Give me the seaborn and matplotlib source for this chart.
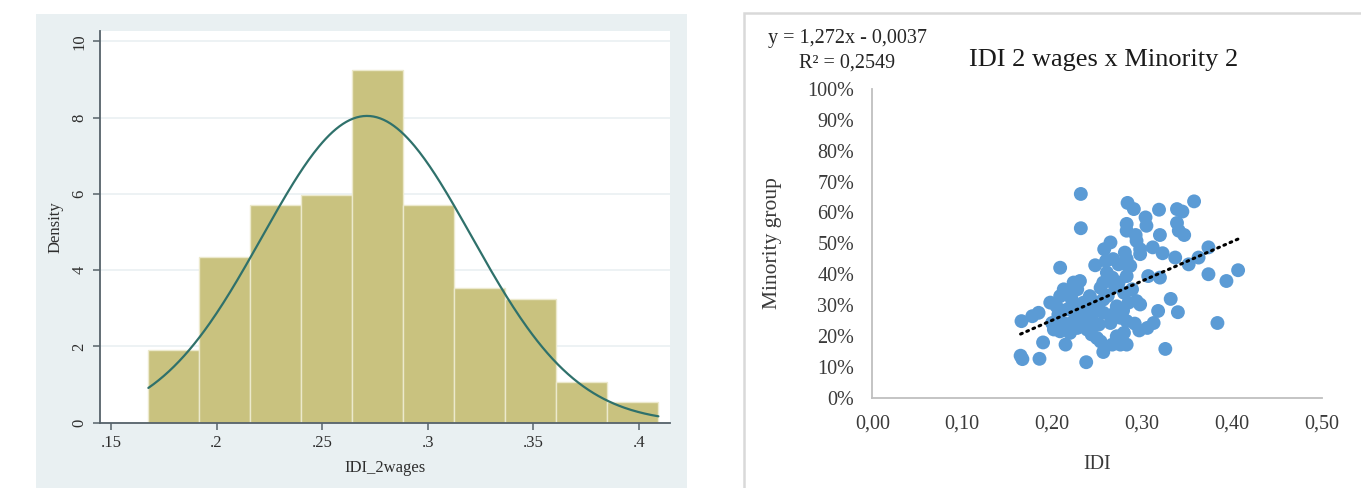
import numpy as np
import matplotlib
matplotlib.use('Agg')
import matplotlib.pyplot as plt
from matplotlib.patches import Rectangle
import seaborn as sns

# ---- left panel: histogram of IDI_2wages (density per bin) ----
bin_edges = [0.1677, 0.1919, 0.2160, 0.2402, 0.2643, 0.2885,
             0.3126, 0.3368, 0.3609, 0.3851, 0.4092]
densities = [1.90, 4.35, 5.70, 5.98, 9.24, 5.70, 3.53, 3.25, 1.08, 0.53]
curve_mean = 0.2712
curve_sd = 0.0496
hist_xticks = [0.15, 0.2, 0.25, 0.3, 0.35, 0.4]
hist_xlabels = ['.15', '.2', '.25', '.3', '.35', '.4']
hist_yticks = [0, 2, 4, 6, 8, 10]

# ---- right panel: scatter IDI x Minority group ----
idi = [0.232, 0.232, 0.284, 0.291, 0.319, 0.358, 0.339, 0.345, 0.304, 0.305,
       0.283, 0.283, 0.293, 0.294, 0.320, 0.339, 0.341, 0.347, 0.265, 0.258,
       0.281, 0.298, 0.312, 0.323, 0.248, 0.260, 0.283, 0.209, 0.337, 0.352,
       0.363, 0.374, 0.374, 0.394, 0.407, 0.307, 0.320, 0.332, 0.340, 0.384,
       0.326, 0.318, 0.313, 0.306, 0.297, 0.166, 0.178, 0.185, 0.165, 0.167,
       0.186, 0.190, 0.215, 0.238, 0.257, 0.267, 0.276, 0.283, 0.272, 0.280,
       0.250, 0.239, 0.228, 0.220, 0.209, 0.202, 0.200, 0.213, 0.224, 0.242,
       0.252, 0.265, 0.276, 0.267, 0.257, 0.246, 0.235, 0.217, 0.205, 0.198,
       0.209, 0.218, 0.228, 0.231, 0.224, 0.213, 0.242, 0.235, 0.228, 0.250,
       0.257, 0.254, 0.257, 0.267, 0.261, 0.274, 0.280, 0.289, 0.294, 0.298,
       0.285, 0.272, 0.283, 0.287, 0.283, 0.274, 0.268, 0.298, 0.207, 0.233,
       0.283, 0.254, 0.222, 0.246, 0.262, 0.270, 0.244, 0.226, 0.279, 0.292]
minority = [0.660, 0.549, 0.631, 0.611, 0.609, 0.636, 0.611, 0.603, 0.584, 0.557,
            0.563, 0.541, 0.527, 0.508, 0.527, 0.566, 0.541, 0.527, 0.503, 0.481,
            0.470, 0.465, 0.487, 0.468, 0.429, 0.443, 0.432, 0.421, 0.454, 0.432,
            0.454, 0.487, 0.400, 0.378, 0.413, 0.394, 0.389, 0.320, 0.277, 0.242,
            0.158, 0.281, 0.242, 0.226, 0.218, 0.248, 0.264, 0.275, 0.136, 0.125,
            0.126, 0.179, 0.172, 0.115, 0.148, 0.172, 0.172, 0.172, 0.199, 0.210,
            0.193, 0.221, 0.226, 0.210, 0.215, 0.221, 0.242, 0.242, 0.248, 0.242,
            0.237, 0.242, 0.259, 0.269, 0.275, 0.275, 0.275, 0.286, 0.296, 0.308,
            0.329, 0.340, 0.351, 0.378, 0.373, 0.351, 0.329, 0.308, 0.296, 0.308,
            0.318, 0.356, 0.373, 0.389, 0.405, 0.373, 0.340, 0.351, 0.313, 0.302,
            0.308, 0.296, 0.394, 0.427, 0.449, 0.432, 0.449, 0.481, 0.269, 0.259,
            0.248, 0.182, 0.318, 0.296, 0.330, 0.360, 0.205, 0.280, 0.282, 0.240]
slope = 1.272
intercept = -0.0037
scatter_xticks = [0.0, 0.1, 0.2, 0.3, 0.4, 0.5]
scatter_yticks = [0.0, 0.1, 0.2, 0.3, 0.4, 0.5, 0.6, 0.7, 0.8, 0.9, 1.0]

sns.set_theme(style='white')
plt.rcParams['font.family'] = ['Liberation Serif', 'DejaVu Serif']

W, H = 1361, 488
fig = plt.figure(figsize=(W / 100, H / 100), dpi=100)
fig.patch.set_facecolor('white')

# Stata-like graph region
fig.patches.append(Rectangle((36 / W, 0), (687 - 36) / W, (488 - 14) / H,
                             transform=fig.transFigure, facecolor='#e9f0f2',
                             edgecolor='none', zorder=-5))
# Excel-like chart frame
fig.patches.append(Rectangle((744 / W, -0.02), 0.5, (488 - 13) / H + 0.02,
                             transform=fig.transFigure, facecolor='white',
                             edgecolor='#d9d9d9', linewidth=1.8, zorder=-5))

# ---------------- histogram ----------------
ax1 = fig.add_axes([100 / W, (488 - 422.7) / H, 570 / W, (422.7 - 31) / H])
ax1.set_facecolor('white')
centers = [(a + b) / 2 for a, b in zip(bin_edges[:-1], bin_edges[1:])]
sns.histplot(x=centers, weights=densities, bins=bin_edges, stat='count',
             color='#c9c27f', alpha=1, edgecolor='#ece9cc', linewidth=1.0, ax=ax1)
xs = np.linspace(bin_edges[0], bin_edges[-1], 300)
pdf = np.exp(-0.5 * ((xs - curve_mean) / curve_sd) ** 2) / (curve_sd * np.sqrt(2 * np.pi))
sns.lineplot(x=xs, y=pdf, color='#2f716b', linewidth=1.6, ax=ax1)

ax1.set_xlim(0.1448, 0.4147)
ax1.set_ylim(0, 10.27)
ax1.set_xticks(hist_xticks)
ax1.set_xticklabels(hist_xlabels)
ax1.set_yticks(hist_yticks)
ax1.set_yticklabels([str(v) for v in hist_yticks], rotation=90, va='center')
ax1.set_axisbelow(True)
ax1.yaxis.grid(True, color='#edf2f4', linewidth=1.4)
ax1.xaxis.grid(False)
for s in ['top', 'right']:
    ax1.spines[s].set_visible(False)
for s in ['left', 'bottom']:
    ax1.spines[s].set_color('#56626a')
    ax1.spines[s].set_linewidth(1.3)
ax1.tick_params(axis='both', which='both', direction='out', length=5, width=1.1,
                color='#56626a', labelsize=12, labelcolor='#2e2e2e', pad=4,
                bottom=True, left=True)
ax1.set_xlabel('IDI_2wages', fontsize=12, color='#2e2e2e')
ax1.set_ylabel('Density', fontsize=12, color='#2e2e2e')
ax1.xaxis.set_label_coords(0.5, -(460 - 422.7) / (422.7 - 31))
ax1.yaxis.set_label_coords((64 - 100) / 570, 0.5)

# ---------------- scatter ----------------
ax2 = fig.add_axes([872.3 / W, (488 - 397.7) / H, 449.4 / W, 308.7 / H])
ax2.set_facecolor('white')
sns.scatterplot(x=idi, y=minority, color='#5b9bd5', s=100, edgecolor='none',
                ax=ax2, zorder=2, clip_on=False)
line_x = np.array([min(idi), max(idi)])
sns.lineplot(x=line_x, y=slope * line_x + intercept, color='black', linewidth=2.2,
             linestyle=(0, (0.6, 1.6)), dash_capstyle='round', ax=ax2, zorder=3)

ax2.set_xlim(0, 0.5)
ax2.set_ylim(0, 1)
ax2.set_xticks(scatter_xticks)
ax2.set_xticklabels([f'{v:.2f}'.replace('.', ',') for v in scatter_xticks])
ax2.set_yticks(scatter_yticks)
ax2.set_yticklabels([f'{int(round(v * 100))}%' for v in scatter_yticks])
ax2.grid(False)
for s in ['top', 'right']:
    ax2.spines[s].set_visible(False)
for s in ['left', 'bottom']:
    ax2.spines[s].set_color('#bfbfbf')
    ax2.spines[s].set_linewidth(1.3)
ax2.tick_params(axis='both', length=0, labelsize=14.5, labelcolor='#3a3a3a')
ax2.tick_params(axis='y', pad=13)
ax2.tick_params(axis='x', pad=12)
ax2.set_xlabel('IDI', fontsize=14.5, color='#3a3a3a')
ax2.set_ylabel('Minority group', fontsize=15.5, color='#3a3a3a')
ax2.xaxis.set_label_coords(0.5, -(455 - 397.7) / 308.7)
ax2.yaxis.set_label_coords((782 - 872.3) / 449.4, 0.5)

fig.text(847 / W, 1 - 39 / H, 'y = 1,272x - 0,0037', ha='center', va='center',
         fontsize=14.5, color='#262626')
fig.text(847 / W, 1 - 63 / H, 'R² = 0,2549', ha='center', va='center',
         fontsize=14.5, color='#262626')
fig.text(1104 / W, 1 - 60 / H, 'IDI 2 wages x Minority 2', ha='center', va='center',
         fontsize=19, color='#1a1a1a')

fig.savefig('out.png', dpi=100)
